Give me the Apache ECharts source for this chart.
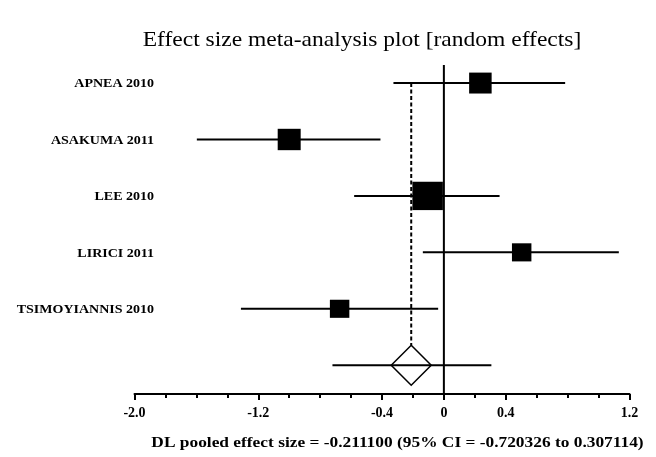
<!DOCTYPE html>
<html>
<head>
<meta charset="utf-8">
<script src="https://cdn.jsdelivr.net/npm/echarts@6/dist/echarts.min.js"></script>
<style>html,body{margin:0;padding:0;background:#fff}#c{width:656px;height:457px}</style>
</head>
<body>
<div id="c"></div>
<script>
const studies = ['APNEA 2010', 'ASAKUMA 2011', 'LEE 2010', 'LIRICI 2011', 'TSIMOYIANNIS 2010'];
const effects = [0.236, -1.00, -0.105, 0.503, -0.674];
const ciLow = [-0.326, -1.597, -0.58, -0.136, -1.312];
const ciHigh = [0.784, -0.41, 0.36, 1.131, -0.037];
const weights = [18.6, 19.4, 34.1, 13.9, 13.9];
const pooledEffect = -0.2111;
const pooledLow = -0.720326;
const pooledHigh = 0.307114;
const xLabelTicks = [-2.0, -1.2, -0.4, 0, 0.4, 1.2];
const titleText = 'Effect size meta-analysis plot [random effects]';
const footerText = 'DL pooled effect size = -0.211100 (95% CI = -0.720326 to 0.307114)';

const SERIF = '"Liberation Serif", "Times New Roman", serif';
const STRETCH = 1.12;
const chart = echarts.init(document.getElementById('c'), null, {renderer: 'canvas'});

const studyData = studies.map((s, i) => [effects[i], i, ciLow[i], ciHigh[i], weights[i]]);
const squareData = studies.map((s, i) => [effects[i], i, weights[i]]);
const pooledRow = studies.length;
const yMin = -0.32, yMax = 5.51;

const option = {
  animation: false,
  backgroundColor: '#fff',
  graphic: [
    {type: 'text', x: 362, y: 40, scaleX: STRETCH,
     style: {text: titleText, font: '21px ' + SERIF, fill: '#000', align: 'center', verticalAlign: 'middle'}},
    {type: 'text', x: 397.5, y: 443, scaleX: STRETCH,
     style: {text: footerText, font: 'bold 15.5px ' + SERIF, fill: '#000', align: 'center', verticalAlign: 'middle'}}
  ],
  grid: {left: 134.5, right: 26.5, top: 65, bottom: 63},
  xAxis: [{
    type: 'value', min: -2, max: 1.2, interval: 0.2,
    axisLine: {show: true, onZero: false, lineStyle: {color: '#000', width: 2}},
    axisTick: {show: true, length: 4, lineStyle: {color: '#000', width: 2}},
    splitLine: {show: false},
    axisLabel: {
      customValues: xLabelTicks, margin: 12,
      fontFamily: SERIF, fontSize: 14, fontWeight: 'bold', color: '#000',
      formatter: v => (Math.abs(v) < 1e-9 ? '0' : v.toFixed(1))
    }
  }, {
    type: 'value', min: -2, max: 1.2, position: 'bottom',
    axisLine: {show: false, onZero: false},
    axisTick: {show: true, customValues: xLabelTicks, length: 6, lineStyle: {color: '#000', width: 2}},
    axisLabel: {show: false}, splitLine: {show: false}
  }],
  yAxis: {type: 'value', min: yMin, max: yMax, inverse: true, show: false},
  series: [
    {
      type: 'custom', name: 'refs', z: 1,
      data: [[pooledEffect, pooledRow]],
      renderItem: (params, api) => {
        const top = api.coord([0, yMin]);
        const bot = api.coord([0, yMax]);
        const dTop = api.coord([pooledEffect, 0]);
        const dBot = api.coord([pooledEffect, pooledRow]);
        return {type: 'group', children: [
          {type: 'line', shape: {x1: top[0], y1: top[1], x2: bot[0], y2: bot[1]},
           style: {stroke: '#000', lineWidth: 2}},
          {type: 'line', shape: {x1: dTop[0], y1: dTop[1], x2: dBot[0], y2: dBot[1] - 20},
           style: {stroke: '#000', lineWidth: 2, lineDash: [4, 2.5]}}
        ]};
      }
    },
    {
      type: 'custom', name: 'ci', z: 2,
      data: studyData,
      renderItem: (params, api) => {
        const row = api.value(1);
        const a = api.coord([api.value(2), row]);
        const b = api.coord([api.value(3), row]);
        const lab = api.coord([-2, row]);
        return {type: 'group', children: [
          {type: 'line', shape: {x1: a[0], y1: a[1], x2: b[0], y2: b[1]},
           style: {stroke: '#000', lineWidth: 2}},
          {type: 'text', x: lab[0] + 19.5, y: lab[1] + 1, scaleX: STRETCH,
           style: {text: studies[params.dataIndex], align: 'right', verticalAlign: 'middle',
                   font: 'bold 12.5px ' + SERIF, fill: '#000'}}
        ]};
      }
    },
    {
      type: 'scatter', name: 'effects', z: 3,
      symbol: 'rect',
      symbolSize: d => { const s = 5.22 * Math.sqrt(d[2]); return [s, s * 0.93]; },
      itemStyle: {color: '#000', opacity: 1, borderWidth: 0},
      emphasis: {disabled: true},
      data: squareData
    },
    {
      type: 'custom', name: 'pooled', z: 4,
      data: [[pooledEffect, pooledRow, pooledLow, pooledHigh]],
      renderItem: (params, api) => {
        const c = api.coord([api.value(0), api.value(1)]);
        const a = api.coord([api.value(2), api.value(1)]);
        const b = api.coord([api.value(3), api.value(1)]);
        const h = 20;
        return {type: 'group', children: [
          {type: 'polygon', shape: {points: [[c[0], c[1] - h], [c[0] + h, c[1]], [c[0], c[1] + h], [c[0] - h, c[1]]]},
           style: {fill: '#fff', stroke: '#000', lineWidth: 1.5}},
          {type: 'line', shape: {x1: a[0], y1: a[1], x2: b[0], y2: b[1]},
           style: {stroke: '#000', lineWidth: 2}}
        ]};
      }
    }
  ]
};
chart.setOption(option);
</script>
</body>
</html>
